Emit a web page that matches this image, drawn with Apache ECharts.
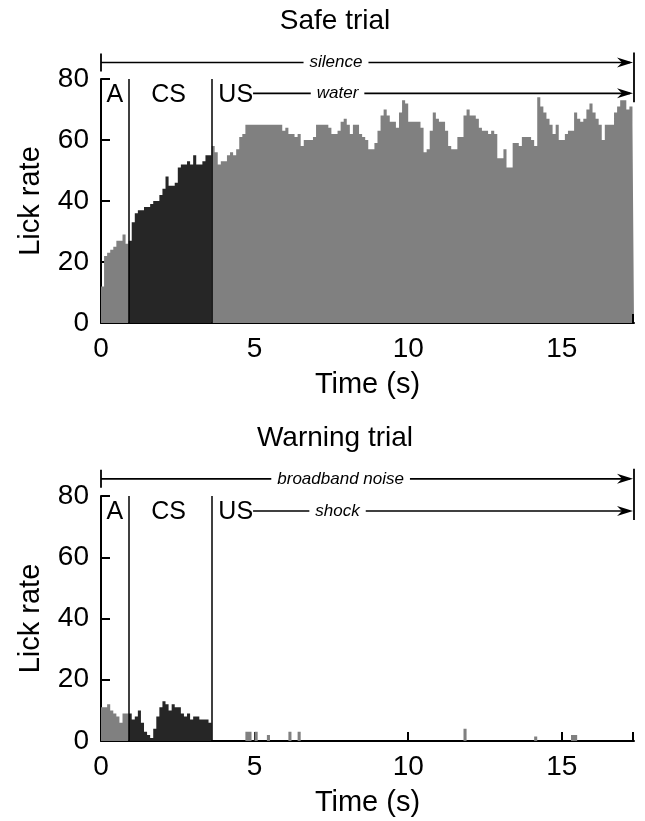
<!DOCTYPE html>
<html><head><meta charset="utf-8">
<script src="https://cdn.jsdelivr.net/npm/echarts@6/dist/echarts.min.js"></script>
<style>html,body{margin:0;padding:0;background:#fff}#c{width:645px;height:821px}</style>
</head><body><div id="c"></div>
<script>
// ---- data ----
const binWidth = 0.1;
const timeMax = 17.35;
const phaseEdges = [0, 0.9, 3.6, timeMax];      // A | CS | US
const phaseNames = ['A', 'CS', 'US'];
const panelTitles = ['Safe trial', 'Warning trial'];
const stimulusLabels = ['silence', 'broadband noise'];
const outcomeLabels = ['water', 'shock'];
const xTicks = [0, 5, 10, 15];
const yTicks = [0, 20, 40, 60, 80];

const safeA = [12, 22, 23, 24, 25, 27, 27, 29, 26];
const safeCS = [27, 33, 36, 37, 37, 38, 38, 39, 40, 40, 42, 44, 48, 45, 45, 46, 51, 52, 52, 53, 52, 55, 52, 52, 53, 55, 55];
const safeUS = [
  58, 56, 52, 53, 53, 55, 56, 55, 57, 61,
  62, 65, 65, 65, 65, 65, 65, 65, 65, 65,
  65, 65, 65, 63, 64, 62, 62, 61, 62, 58,
  60, 60, 60, 61, 65, 65, 65, 65, 64, 62,
  62, 63, 66, 67, 65, 62, 65, 65, 62, 61,
  60, 57, 57, 59, 63, 68, 70, 68, 66, 66,
  64, 69, 73, 72, 66, 66, 66, 66, 64, 56,
  57, 63, 69, 67, 66, 66, 63, 58, 57, 57,
  61, 61, 68, 70, 68, 68, 67, 64, 63, 63,
  62, 63, 62, 54, 54, 57, 51, 51, 59, 59,
  58, 61, 61, 61, 60, 58, 74, 71, 69, 67,
  65, 62, 65, 60, 60, 62, 63, 63, 69, 67,
  66, 67, 70, 72, 69, 67, 65, 60, 65, 65,
  65, 69, 71, 73, 73, 70, 71, 65
];
const warnA = [11, 11, 12, 10, 9, 8, 6, 9, 9];
const warnCS = [9, 7, 8, 10, 6, 3, 2, 1, 4, 8, 11, 13, 12, 10, 12, 11, 11, 9, 8, 9, 7, 8, 8, 7, 7, 7, 6];
const warnUS = [
  0, 0, 0, 0, 0, 0, 0, 0, 0, 0,
  0, 3, 3, 0, 3, 0, 0, 0, 2, 0,
  0, 0, 0, 0, 0, 3, 0, 0, 3, 0,
  0, 0, 0, 0, 0, 0, 0, 0, 0, 0,
  0, 0, 0, 0, 0, 0, 0, 0, 0, 0,
  0, 0, 0, 0, 0, 0, 0, 0, 0, 0,
  0, 0, 0, 0, 0, 0, 0, 0, 0, 0,
  0, 0, 0, 0, 0, 0, 0, 0, 0, 0,
  0, 0, 4, 0, 0, 0, 0, 0, 0, 0,
  0, 0, 0, 0, 0, 0, 0, 0, 0, 0,
  0, 0, 0, 0, 0, 1.5, 0, 0, 0, 0,
  0, 0, 0, 0, 0, 0, 0, 2, 2, 0,
  0, 0, 0, 0, 0, 0, 0, 0, 0, 0,
  0, 0, 0, 0, 0, 0, 0, 0
];

// ---- styling ----
const FONT = '"Liberation Sans", Arial, Helvetica, sans-serif';
const GRAY = '#808080';
const DARK = '#262626';
const panels = [[safeA, safeCS, safeUS], [warnA, warnCS, warnUS]];
const phaseColors = [GRAY, DARK, GRAY];

function stepData(start, vals, end) {
  const pts = vals.map((v, i) => [+(start + i * binWidth).toFixed(3), v]);
  pts.push([end, vals[vals.length - 1]]);
  return pts;
}

const chart = echarts.init(document.getElementById('c'), null, {renderer: 'canvas'});

const grids = [
  {left: 101, right: 11, top: 79, height: 244},
  {left: 101, right: 11, top: 496, height: 245}
];

const series = [];
panels.forEach((phases, g) => {
  phases.forEach((vals, p) => {
    const s = {
      type: 'line', xAxisIndex: g, yAxisIndex: g,
      data: stepData(phaseEdges[p], vals, phaseEdges[p + 1]),
      step: 'end', symbol: 'none', showSymbol: false, silent: true, animation: false,
      lineStyle: {width: 0, color: phaseColors[p]},
      itemStyle: {color: phaseColors[p]},
      areaStyle: {color: phaseColors[p], opacity: 1},
      z: 2
    };
    if (p === 2) {
      s.markLine = {
        silent: true, animation: false, symbol: ['none', 'none'], label: {show: false},
        lineStyle: {color: '#000', width: 1.5, type: 'solid'},
        data: [{xAxis: phaseEdges[1]}, {xAxis: phaseEdges[2]}]
      };
    }
    series.push(s);
  });
});

const option = {
  animation: false,
  backgroundColor: '#fff',
  title: panelTitles.map((t, g) => ({
    text: t, left: 330, top: g === 0 ? 2 : 419, textAlign: 'center',
    textStyle: {fontSize: 28, fontWeight: 'normal', color: '#000', fontFamily: FONT}
  })),
  grid: grids,
  xAxis: [0, 1].map(g => ({
    type: 'value', gridIndex: g, min: 0, max: timeMax, interval: 5,
    name: 'Time (s)', nameLocation: 'middle', nameGap: 47,
    nameTextStyle: {fontSize: 29, color: '#000', fontFamily: FONT},
    axisLine: {lineStyle: {color: '#000', width: 2}},
    axisTick: {inside: true, length: 9, lineStyle: {color: '#000', width: 2}},
    axisLabel: {fontSize: 28, color: '#000', fontFamily: FONT, margin: 12, showMaxLabel: false,
      formatter: v => (xTicks.indexOf(v) >= 0 ? String(v) : '')},
    splitLine: {show: false}
  })),
  yAxis: [0, 1].map(g => ({
    type: 'value', gridIndex: g, min: 0, max: 80, interval: 20,
    name: 'Lick rate', nameLocation: 'middle', nameGap: 56,
    nameTextStyle: {fontSize: 29, color: '#000', fontFamily: FONT},
    axisLine: {show: true, lineStyle: {color: '#000', width: 2}},
    axisTick: {show: true, inside: true, length: 9, lineStyle: {color: '#000', width: 2}},
    axisLabel: {fontSize: 28, color: '#000', fontFamily: FONT, margin: 12,
      formatter: v => (yTicks.indexOf(v) >= 0 ? String(v) : '')},
    splitLine: {show: false}
  })),
  series
};
chart.setOption(option);

// ---- annotations placed through the axes' scales ----
const stimulusLineValue = [85.4, 85.6];
const outcomeLineValue = [75.3, 75.1];
const labelCenterTime = [7.65, 7.8];
const outcomeCenterTime = [7.7, 7.7];
const outcomeLineStart = 4.95;
const phaseLabelTimes = [0.45, 2.2, 3.82];
const phaseLabelValue = 74.8;

function px(g, t, v) { return chart.convertToPixel({gridIndex: g}, [t, v]); }
const graphics = [];
function line(x1, y1, x2, y2, w) {
  graphics.push({type: 'line', silent: true, z: 10,
    shape: {x1: x1, y1: y1, x2: x2, y2: y2}, style: {stroke: '#000', lineWidth: w || 1.6}});
}
function arrow(x, y) {
  graphics.push({type: 'polygon', silent: true, z: 11,
    shape: {points: [[x, y], [x - 16, y - 5], [x - 11, y], [x - 16, y + 5]]}, style: {fill: '#000'}});
}
function text(str, x, y, font, align, bg) {
  const st = {text: str, x: x, y: y, font: font, fill: '#000', align: align || 'center', verticalAlign: 'middle'};
  if (bg) { st.backgroundColor = '#fff'; st.padding = [0, 6]; }
  graphics.push({type: 'text', silent: true, z: 12, style: st});
}
[0, 1].forEach(g => {
  const a = px(g, 0, stimulusLineValue[g]);
  const b = px(g, timeMax, stimulusLineValue[g]);
  const c = px(g, outcomeLineStart, outcomeLineValue[g]);
  const d = px(g, timeMax, outcomeLineValue[g]);
  const e = px(g, timeMax, 0);
  line(e[0] - 1, e[1], e[0] - 1, e[1] - 9, 2);
  line(a[0], a[1], b[0] - 4, b[1]);
  line(a[0], a[1] - 9, a[0], a[1] + 9, 1.8);
  line(b[0], b[1] - 10, d[0], d[1] + 9, 1.8);
  arrow(b[0] - 1, b[1]);
  line(c[0], c[1], d[0] - 4, d[1]);
  arrow(d[0] - 1, d[1]);
  const sl = px(g, labelCenterTime[g], stimulusLineValue[g]);
  text(stimulusLabels[g], sl[0], sl[1], 'italic 17px ' + FONT, 'center', true);
  const ol = px(g, outcomeCenterTime[g], outcomeLineValue[g]);
  text(outcomeLabels[g], ol[0], ol[1], 'italic 17px ' + FONT, 'center', true);
  phaseNames.forEach((n, i) => {
    const p = px(g, phaseLabelTimes[i], phaseLabelValue);
    text(n, p[0], p[1], '25px ' + FONT, i === 2 ? 'left' : 'center', false);
  });
});
chart.setOption({graphic: graphics});
</script>
</body></html>
